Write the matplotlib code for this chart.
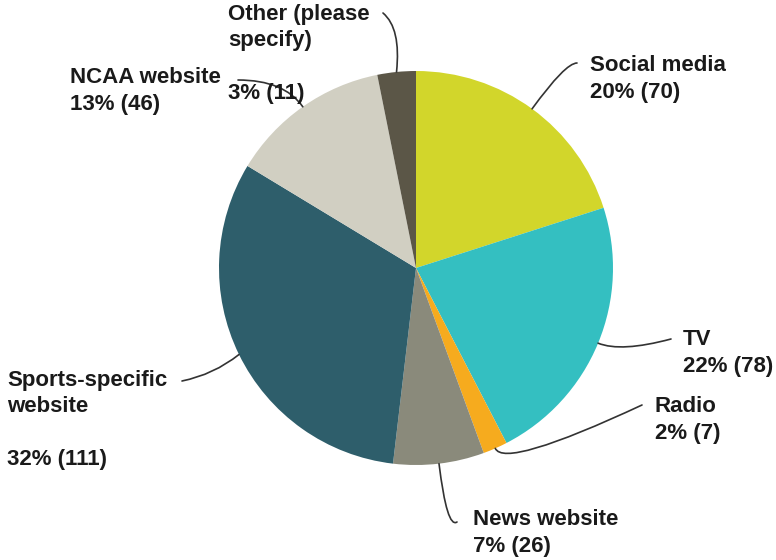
import numpy as np
import matplotlib.pyplot as plt

plt.rcParams['font.family'] = ['Liberation Sans', 'DejaVu Sans']

# survey answers, clockwise from 12 o'clock
categories = ["Social media", "TV", "Radio", "News website",
              "Sports-specific\nwebsite\n", "NCAA website", "Other (please\nspecify)\n"]
counts = [70, 78, 7, 26, 111, 46, 11]
colors = ["#d2d62b", "#34bfc1", "#f6ab1e", "#8a8a7b", "#2e5e6b", "#d1cfc2", "#5b5647"]

W, H = 776, 560
cx, cy, R = 416, 268, 197  # pie centre / radius in pixels (y from top)

# label block (left x, centre y) and leader end point, in pixels from top-left
label_pos = [(590, 79), (683, 353), (655, 420), (473, 533), (7, 420), (70, 91), (228, 54)]
line_end = [(577, 63), (671, 339), (642, 405), (457, 522), (182, 381), (238, 80), (383, 13)]
conn = ["angle3,angleA=0,angleB=54", "angle3,angleA=15,angleB=-22",
        "angle3,angleA=25,angleB=-66", "angle3,angleA=35,angleB=-83",
        "arc3,rad=0.12", "angle3,angleA=0,angleB=125", "angle3,angleA=140,angleB=84"]

fig = plt.figure(figsize=(W / 100, H / 100), dpi=100)
ax = fig.add_axes([0, 0, 1, 1])

ax.pie(counts, colors=colors, startangle=90, counterclock=False,
       radius=R, center=(cx, H - cy), wedgeprops=dict(linewidth=0))
ax.set_xlim(0, W)
ax.set_ylim(0, H)
ax.set_aspect('equal')
ax.axis('off')

total = sum(counts)
cum = np.cumsum([0] + counts)
for i, (cat, n) in enumerate(zip(categories, counts)):
    mid = (cum[i] + n / 2) / total * 2 * np.pi  # clockwise from top
    sx = cx + R * np.sin(mid)
    sy = H - (cy - R * np.cos(mid))
    ex, ey = line_end[i]
    ax.annotate("", xy=(sx, sy), xytext=(ex, H - ey),
                arrowprops=dict(arrowstyle='-', color='#333333', lw=1.2,
                                shrinkA=0, shrinkB=0, connectionstyle=conn[i]))
    pct = round(n / total * 100)
    lx, ly = label_pos[i]
    ax.text(lx, H - ly, f"{cat}\n{pct}% ({n})", ha='left', va='center',
            fontsize=16, fontweight='bold', color='#1a1a1a', linespacing=1.32)

fig.savefig("out.png", dpi=100)
